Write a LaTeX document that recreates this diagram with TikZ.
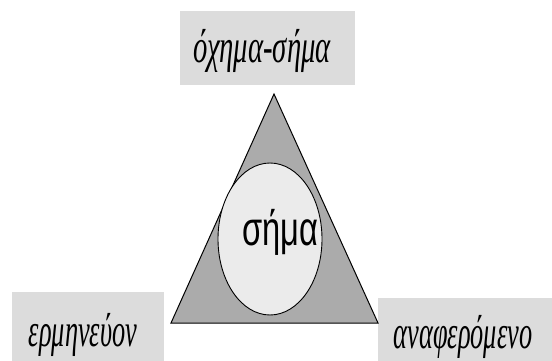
\documentclass[tikz,border=0pt]{standalone}
\usepackage{fontspec}
\usetikzlibrary{shapes.geometric}
\setmainfont{Liberation Serif}
\newfontfamily\labserif{Liberation Serif}
\newfontfamily\labsans{Liberation Sans}
\definecolor{boxgray}{HTML}{DCDCDC}
\definecolor{trigray}{HTML}{ABABAB}
\definecolor{ellgray}{HTML}{EBEBEB}
\begin{document}
\begin{tikzpicture}[x=1pt,y=-1pt,
  lab/.style={anchor=base,inner sep=0pt,font=\labserif\fontsize{47}{47}\selectfont\itshape}]
\useasboundingbox (0,0) rectangle (552,361);
\fill[boxgray] (180,11) rectangle (355,85);
\fill[boxgray] (12,292) rectangle (164,361);
\fill[boxgray] (378,298) rectangle (552,361);
\coordinate (apex) at (274,94);
\coordinate (bl) at (171,323);
\coordinate (br) at (378,323);
\filldraw[fill=trigray,draw=black,line width=1pt] (apex) -- (bl) -- (br) -- cycle;
\node[draw=black,fill=ellgray,line width=0.9pt,ellipse,minimum width=104pt,minimum height=152pt,inner sep=0pt] (ell) at (270,239) {};
\node[anchor=base,inner sep=0pt] (sima) at (280,245) {\scalebox{0.68}[1]{\labsans\fontsize{48}{48}\selectfont σήμα}};
\node[lab] (top) at (262,63) {\scalebox{0.61}[1]{όχημα-σήμα}};
\node[lab] (left) at (83,346) {\scalebox{0.56}[1]{ερμηνεύον}};
\node[lab] (right) at (463,348) {\scalebox{0.56}[1]{αναφερόμενο}};
\end{tikzpicture}
\end{document}
